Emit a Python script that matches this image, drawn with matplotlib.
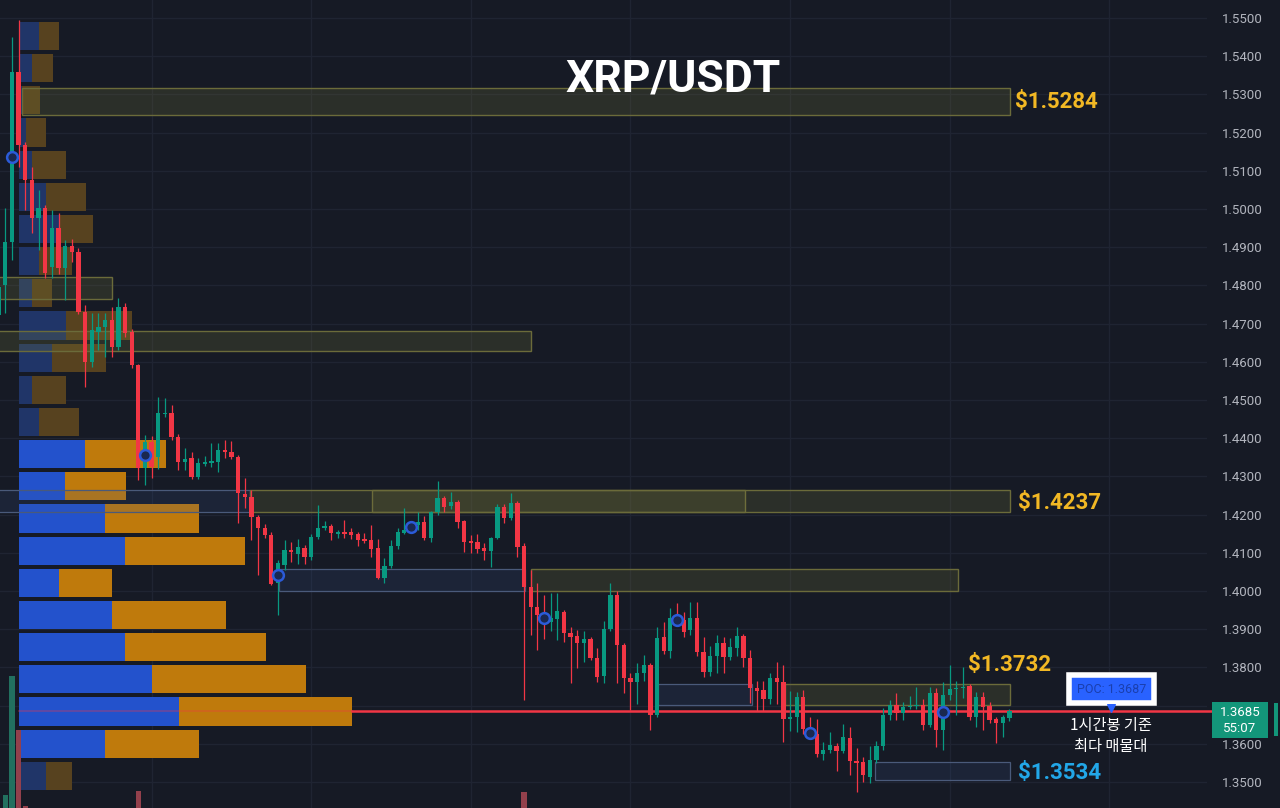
import numpy as np
import matplotlib.pyplot as plt
from matplotlib.patches import Rectangle

plt.rcParams['font.family'] = ['Roboto', 'DejaVu Sans']

# hourly candles XRP/USDT (oldest first)
opens = [1.4722, 1.4800, 1.4913, 1.5359, 1.5167, 1.5076, 1.4976, 1.5003, 1.4848, 1.4950,
         1.4846, 1.4903, 1.4887, 1.4730, 1.4600, 1.4678, 1.4691, 1.4710, 1.4639, 1.4743,
         1.4678, 1.4592, 1.4322, 1.4390, 1.4351, 1.4463, 1.4466, 1.4403, 1.4338, 1.4348,
         1.4298, 1.4333, 1.4335, 1.4338, 1.4368, 1.4364, 1.4351, 1.4255, 1.4246, 1.4194,
         1.4165, 1.4147, 1.4021, 1.4068, 1.4108, 1.4097, 1.4113, 1.4089, 1.4141, 1.4165,
         1.4170, 1.4148, 1.4155, 1.4154, 1.4149, 1.4136, 1.4133, 1.4113, 1.4034, 1.4065,
         1.4118, 1.4152, 1.4160, 1.4173, 1.4181, 1.4139, 1.4207, 1.4243, 1.4222, 1.4233,
         1.4183, 1.4130, 1.4128, 1.4113, 1.4105, 1.4139, 1.4220, 1.4191, 1.4230, 1.4118,
         1.4010, 1.3958, 1.3937, 1.3918, 1.3926, 1.3945, 1.3890, 1.3882, 1.3864, 1.3874,
         1.3825, 1.3777, 1.3900, 1.3990, 1.3859, 1.3772, 1.3762, 1.3785, 1.3806, 1.3675,
         1.3880, 1.3843, 1.3929, 1.3924, 1.3898, 1.3929, 1.3840, 1.3788, 1.3829, 1.3863,
         1.3827, 1.3850, 1.3882, 1.3824, 1.3746, 1.3740, 1.3717, 1.3772, 1.3762, 1.3665,
         1.3670, 1.3722, 1.3639, 1.3625, 1.3572, 1.3585, 1.3595, 1.3580, 1.3615, 1.3555,
         1.3552, 1.3513, 1.3558, 1.3594, 1.3675, 1.3702, 1.3681, 1.3696, 1.3698, 1.3702,
         1.3649, 1.3733, 1.3636, 1.3728, 1.3743, 1.3746, 1.3751, 1.3670, 1.3722, 1.3699,
         1.3665, 1.3655, 1.3667]
highs = [1.4820, 1.5003, 1.5450, 1.5495, 1.5175, 1.5110, 1.5050, 1.5010, 1.4997, 1.4990,
         1.4920, 1.4922, 1.4898, 1.4749, 1.4728, 1.4728, 1.4728, 1.4743, 1.4767, 1.4754,
         1.4685, 1.4595, 1.4408, 1.4405, 1.4508, 1.4505, 1.4487, 1.4410, 1.4375, 1.4364,
         1.4348, 1.4353, 1.4387, 1.4387, 1.4395, 1.4392, 1.4355, 1.4296, 1.4264, 1.4200,
         1.4175, 1.4155, 1.4080, 1.4133, 1.4128, 1.4135, 1.4120, 1.4148, 1.4225, 1.4183,
         1.4175, 1.4160, 1.4185, 1.4165, 1.4155, 1.4152, 1.4173, 1.4137, 1.4086, 1.4133,
         1.4165, 1.4217, 1.4180, 1.4207, 1.4197, 1.4210, 1.4288, 1.4248, 1.4259, 1.4238,
         1.4185, 1.4146, 1.4150, 1.4125, 1.4142, 1.4228, 1.4228, 1.4256, 1.4235, 1.4125,
         1.4055, 1.4021, 1.3990, 1.3995, 1.3995, 1.3950, 1.3905, 1.3898, 1.3895, 1.3880,
         1.3850, 1.3922, 1.4021, 1.4000, 1.3865, 1.3785, 1.3812, 1.3833, 1.3812, 1.3906,
         1.3919, 1.3956, 1.3968, 1.3945, 1.3971, 1.3972, 1.3879, 1.3855, 1.3884, 1.3880,
         1.3878, 1.3906, 1.3888, 1.3845, 1.3765, 1.3765, 1.3785, 1.3814, 1.3806, 1.3738,
         1.3735, 1.3741, 1.3670, 1.3665, 1.3605, 1.3631, 1.3603, 1.3652, 1.3645, 1.3590,
         1.3565, 1.3594, 1.3608, 1.3694, 1.3715, 1.3733, 1.3710, 1.3726, 1.3749, 1.3718,
         1.3749, 1.3745, 1.3762, 1.3806, 1.3764, 1.3800, 1.3756, 1.3735, 1.3735, 1.3710,
         1.3670, 1.3675, 1.3690]
lows = [1.4680, 1.4728, 1.4867, 1.5110, 1.4997, 1.4937, 1.4893, 1.4820, 1.4820, 1.4830,
        1.4762, 1.4860, 1.4725, 1.4534, 1.4586, 1.4630, 1.4613, 1.4613, 1.4630, 1.4665,
        1.4585, 1.4290, 1.4277, 1.4297, 1.4320, 1.4455, 1.4395, 1.4317, 1.4317, 1.4292,
        1.4292, 1.4327, 1.4325, 1.4312, 1.4348, 1.4345, 1.4178, 1.4217, 1.4133, 1.4042,
        1.4140, 1.4016, 1.3937, 1.4055, 1.4075, 1.4070, 1.4070, 1.4080, 1.4135, 1.4160,
        1.4133, 1.4140, 1.4138, 1.4135, 1.4118, 1.4125, 1.4089, 1.4032, 1.4021, 1.4060,
        1.4110, 1.4148, 1.4155, 1.4160, 1.4133, 1.4128, 1.4200, 1.4207, 1.4215, 1.4165,
        1.4102, 1.4100, 1.4100, 1.4080, 1.4063, 1.4135, 1.4178, 1.4185, 1.4089, 1.3715,
        1.3885, 1.3846, 1.3875, 1.3895, 1.3871, 1.3867, 1.3760, 1.3798, 1.3815, 1.3820,
        1.3762, 1.3760, 1.3895, 1.3759, 1.3732, 1.3688, 1.3705, 1.3765, 1.3636, 1.3670,
        1.3835, 1.3825, 1.3910, 1.3880, 1.3885, 1.3830, 1.3775, 1.3777, 1.3785, 1.3785,
        1.3820, 1.3830, 1.3801, 1.3707, 1.3685, 1.3685, 1.3705, 1.3705, 1.3605, 1.3633,
        1.3631, 1.3625, 1.3625, 1.3565, 1.3557, 1.3575, 1.3530, 1.3575, 1.3518, 1.3474,
        1.3500, 1.3497, 1.3550, 1.3585, 1.3662, 1.3662, 1.3662, 1.3690, 1.3692, 1.3636,
        1.3645, 1.3592, 1.3584, 1.3715, 1.3675, 1.3720, 1.3663, 1.3643, 1.3636, 1.3655,
        1.3602, 1.3618, 1.3660]
closes = [1.4795, 1.4913, 1.5359, 1.5167, 1.5076, 1.4976, 1.5003, 1.4832, 1.4950, 1.4846,
          1.4903, 1.4888, 1.4730, 1.4600, 1.4683, 1.4691, 1.4710, 1.4639, 1.4743, 1.4675,
          1.4592, 1.4322, 1.4390, 1.4325, 1.4466, 1.4467, 1.4403, 1.4338, 1.4345, 1.4298,
          1.4335, 1.4337, 1.4340, 1.4369, 1.4363, 1.4351, 1.4257, 1.4247, 1.4194, 1.4165,
          1.4147, 1.4018, 1.4073, 1.4107, 1.4102, 1.4115, 1.4089, 1.4141, 1.4165, 1.4170,
          1.4152, 1.4155, 1.4148, 1.4146, 1.4133, 1.4130, 1.4110, 1.4034, 1.4065, 1.4118,
          1.4154, 1.4160, 1.4167, 1.4181, 1.4139, 1.4207, 1.4243, 1.4220, 1.4232, 1.4181,
          1.4128, 1.4126, 1.4110, 1.4105, 1.4139, 1.4220, 1.4191, 1.4230, 1.4115, 1.4010,
          1.3958, 1.3937, 1.3930, 1.3929, 1.3947, 1.3890, 1.3880, 1.3864, 1.3874, 1.3825,
          1.3775, 1.3900, 1.3990, 1.3859, 1.3772, 1.3762, 1.3785, 1.3806, 1.3675, 1.3877,
          1.3843, 1.3929, 1.3922, 1.3893, 1.3929, 1.3840, 1.3788, 1.3829, 1.3863, 1.3827,
          1.3853, 1.3882, 1.3824, 1.3746, 1.3738, 1.3717, 1.3772, 1.3763, 1.3665, 1.3670,
          1.3722, 1.3639, 1.3632, 1.3572, 1.3585, 1.3598, 1.3580, 1.3618, 1.3555, 1.3550,
          1.3518, 1.3558, 1.3594, 1.3675, 1.3702, 1.3681, 1.3696, 1.3699, 1.3702, 1.3649,
          1.3733, 1.3636, 1.3728, 1.3744, 1.3746, 1.3749, 1.3670, 1.3722, 1.3696, 1.3662,
          1.3655, 1.3670, 1.3685]

# blue markers every 20 bars
marker_idx = [2, 22, 42, 62, 82, 102, 122, 142]
marker_price = [1.5136, 1.4356, 1.4042, 1.4167, 1.3929, 1.3924, 1.3628, 1.3683]

# only the tallest volume bars reach into the cropped view
vol_idx = [1, 2, 3, 4, 21, 79]
vol_val = [66, 185, 131, 55, 70, 69]

# volume profile rows, lowest price first
buy_vol = [27, 86, 160, 133, 106, 93, 40, 106, 86, 46, 66, 20,
           13, 33, 47, 13, 20, 40, 27, 13, 7, 3, 13, 20]
sell_vol = [26, 94, 173, 154, 141, 114, 53, 120, 94, 61, 81, 40,
            34, 54, 66, 20, 33, 34, 40, 34, 20, 18, 21, 20]
value_area_rows = range(1, 11)
poc_price = 1.3687

# supply / demand zones
zone_start = [3.5, -1, -1, -1, 37.8, 56.1, 42.2, 80.0, 99.1, 118.2, 131.8]
zone_end = [152.1, 17.0, 80.0, 37.8, 112.2, 152.1, 79.1, 144.3, 113.3, 152.1, 152.1]
zone_low = [1.5246, 1.4764, 1.4628, 1.4207, 1.4207, 1.4207, 1.4000, 1.4000, 1.3701, 1.3701, 1.3506]
zone_high = [1.5317, 1.4822, 1.4680, 1.4264, 1.4264, 1.4264, 1.4058, 1.4058, 1.3757, 1.3757, 1.3553]
zone_kind = ['sup', 'sup', 'sup', 'dem', 'sup', 'sup', 'dem', 'sup', 'dem', 'sup', 'dem']

level_text = ['$1.5284', '$1.4237', '$1.3732', '$1.3534']
last_price = 1.3685
countdown = '55:07'
price_ticks = np.round(np.arange(1.35, 1.5501, 0.01), 2)
day_lines = [23, 47, 71, 95, 119, 143, 167]

bg = '#161a25'
up, down = '#089981', '#f23645'
xlim = (0.2, 181.7)
ylim = (1.34319, 1.55471)
rect = [0, 0, 1207 / 1280, 1]

fig = plt.figure(figsize=(12.8, 8.08), dpi=100, facecolor=bg)

# background grid
ax_g = fig.add_axes(rect, facecolor=bg)
ax_g.set_xlim(xlim)
ax_g.set_ylim(ylim)
ax_g.set_xticks(day_lines)
ax_g.set_yticks(price_ticks)
ax_g.grid(color='#1f2432', lw=1)
ax_g.tick_params(length=0, labelleft=False, labelbottom=False)
for s in ax_g.spines.values():
    s.set_visible(False)

# volume profile
ax_p = fig.add_axes(rect, facecolor='none')
ax_p.set_xlim(-19, 1188)
ax_p.set_ylim(ylim)
ax_p.set_axis_off()
edges = np.linspace(min(lows), max(highs), len(buy_vol) + 1)
step = edges[1] - edges[0]
centers = edges[:-1] + step / 2
bcol = ['#2352cc' if k in value_area_rows else '#203568' for k in range(len(buy_vol))]
scol = ['#bf7a0c' if k in value_area_rows else '#57421f' for k in range(len(buy_vol))]
ax_p.barh(centers, buy_vol, height=step * 0.875, color=bcol)
ax_p.barh(centers, sell_vol, left=buy_vol, height=step * 0.875, color=scol)
total = np.array(buy_vol) + np.array(sell_vol)
poc_w = total.max()
ax_p.plot([0, poc_w], [poc_price] * 2, color=down, lw=1.2, alpha=0.35)
ax_p.plot([poc_w, 1194], [poc_price] * 2, color=down, lw=1.8, clip_on=False)

# volume bars
ax_v = fig.add_axes(rect, facecolor='none')
ax_v.set_xlim(xlim)
ax_v.set_ylim(53, 861)
ax_v.set_axis_off()
vcol = ['#22705f' if closes[i] >= opens[i] else '#93404c' for i in vol_idx]
ax_v.bar(vol_idx, vol_val, width=0.8, color=vcol)

# candles, zones, labels
ax = fig.add_axes(rect, facecolor='none')
ax.set_xlim(xlim)
ax.set_ylim(ylim)

for s, e, lo, hi, k in zip(zone_start, zone_end, zone_low, zone_high, zone_kind):
    if k == 'sup':
        ax.add_patch(Rectangle((s, lo), e - s, hi - lo, fc='#7a7a3a', alpha=0.22, ec='none', zorder=1))
        ax.add_patch(Rectangle((s, lo), e - s, hi - lo, fc='none', ec='#6b6b3a', lw=1, zorder=1))
    else:
        ax.add_patch(Rectangle((s, lo), e - s, hi - lo, fc='#3c5a96', alpha=0.16, ec='none', zorder=1))
        ax.add_patch(Rectangle((s, lo), e - s, hi - lo, fc='none', ec='#4a5a7a', lw=0.9, zorder=1))

x = np.arange(len(opens))
o, h, l, c = map(np.array, (opens, highs, lows, closes))
col = np.where(c >= o, up, down)
ax.vlines(x, l, h, colors=col, lw=0.9, zorder=3)
body = np.maximum(np.abs(c - o), 0.00035)
ax.bar(x, body, bottom=np.minimum(o, c), width=0.64, color=col, zorder=4)

ax.scatter(marker_idx, marker_price, s=60, facecolor='#1a2850', edgecolor='#2b5bd8', lw=1.8, zorder=5)

ax.text(0.558, 0.901, 'XRP/USDT', transform=ax.transAxes, ha='center', va='center',
        fontsize=32, fontweight='bold', color='white')

lbl_x = [152.8, 153.3, 145.8, 153.3]
lbl_y = [1.5280, 1.4230, 1.3806, 1.3524]
lbl_c = ['#f2b824', '#f2b824', '#f2b824', '#22a7e8']
for t, xx, yy, cc in zip(level_text, lbl_x, lbl_y, lbl_c):
    ax.text(xx, yy, t, ha='left', va='center', fontsize=16, fontweight='bold', color=cc, zorder=6)

ax.text(167.3, 1.3743, f'POC: {poc_price:.4f}', ha='center', va='center', fontsize=9,
        color='#1a3fae', zorder=7,
        bbox=dict(boxstyle='square,pad=0.62', fc='#2962ff', ec='white', lw=4))
ax.scatter([167.3], [1.3693], marker='v', s=30, color='#2962ff', zorder=7)
ax.text(167.2, 1.3620, '1시간봉 기준\n최다 매물대', ha='center', va='center', fontsize=11,
        color='white', linespacing=1.3, family=['Noto Sans CJK KR', 'DejaVu Sans'], zorder=7)

ax.yaxis.tick_right()
ax.set_yticks(price_ticks)
# the 1.3700 label sits under the last-price tag
ax.set_yticklabels(['' if abs(p - 1.37) < 1e-6 else f'{p:.4f}' for p in price_ticks])
ax.tick_params(axis='y', length=0, pad=10.5, labelsize=9.5, labelcolor='#b2b5be')
ax.set_xticks([])
for s in ax.spines.values():
    s.set_visible(False)

# last price tag on the price scale
fig.add_artist(Rectangle((1212 / 1280, 70 / 808), 56 / 1280, 36 / 808, transform=fig.transFigure,
                         fc='#13967a', ec='none', zorder=5))
fig.add_artist(Rectangle((1274 / 1280, 72 / 808), 4 / 1280, 33 / 808, transform=fig.transFigure,
                         fc='#13967a', ec='none', zorder=5))
fig.text(1240 / 1280, 1 - 712 / 808, f'{last_price:.4f}', ha='center', va='center',
         fontsize=9.5, color='white', zorder=6)
fig.text(1240 / 1280, 1 - 729 / 808, countdown, ha='center', va='center',
         fontsize=9.5, color='white', zorder=6)

fig.savefig('out.png', dpi=100, facecolor=bg)
